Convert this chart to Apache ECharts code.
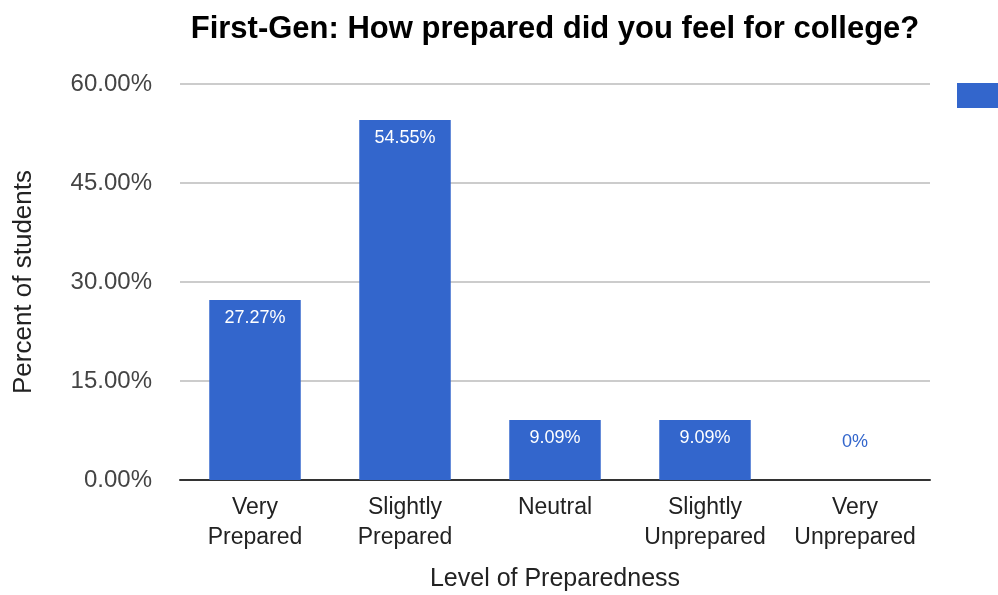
<!DOCTYPE html>
<html>
<head>
<meta charset="utf-8">
<script src="https://cdn.jsdelivr.net/npm/echarts@6/dist/echarts.min.js"></script>
<style>
  html, body { margin: 0; padding: 0; background: #fff; }
  #chart { width: 998px; height: 595px; }
</style>
</head>
<body>
<div id="chart"></div>
<script>
// Survey answers for first-generation students
const categories = ['Very\nPrepared', 'Slightly\nPrepared', 'Neutral', 'Slightly\nUnprepared', 'Very\nUnprepared'];
const percents = [27.27, 54.55, 9.09, 9.09, 0];
const yTicks = { min: 0, max: 60, step: 15 };

const BLUE = '#3366cc';
const FONT = '"Liberation Sans", Arial, sans-serif';

const chart = echarts.init(document.getElementById('chart'), null, { renderer: 'canvas' });

// Zero-height bars get their label above the baseline in the bar colour
const barData = percents.map(v => v === 0
  ? { value: v, label: { position: 'top', distance: 29, color: BLUE } }
  : v);

chart.setOption({
  animation: false,
  backgroundColor: '#ffffff',
  textStyle: { fontFamily: FONT },
  title: {
    text: 'First-Gen: How prepared did you feel for college?',
    left: 550,
    top: 9,
    textAlign: 'center',
    textStyle: { fontFamily: FONT, fontWeight: 'bold', fontSize: 31, color: '#000' }
  },
  legend: {
    left: 952,
    top: 78,
    itemWidth: 41,
    itemHeight: 25,
    icon: 'rect',
    formatter: () => '',
    data: ['Percent of students']
  },
  grid: { left: 180, right: 68, top: 84, bottom: 115, outerBoundsMode: 'none', containLabel: false },
  xAxis: {
    type: 'category',
    data: categories,
    name: 'Level of Preparedness',
    nameLocation: 'middle',
    nameGap: 87,
    nameTextStyle: { fontFamily: FONT, fontSize: 25, color: '#222' },
    axisLine: { lineStyle: { color: '#333', width: 2 } },
    axisTick: { show: false },
    axisLabel: { fontFamily: FONT, fontSize: 23, color: '#222', lineHeight: 30, margin: 13, interval: 0 }
  },
  yAxis: {
    type: 'value',
    min: yTicks.min,
    max: yTicks.max,
    interval: yTicks.step,
    name: 'Percent of students',
    nameLocation: 'middle',
    nameGap: 143,
    nameTextStyle: { fontFamily: FONT, fontSize: 26, color: '#222' },
    axisLine: { show: false },
    axisTick: { show: false },
    splitLine: { lineStyle: { color: '#cccccc', width: 2 } },
    axisLabel: {
      fontFamily: FONT, fontSize: 24, color: '#444', margin: 28,
      formatter: v => v.toFixed(2) + '%'
    }
  },
  series: [{
    name: 'Percent of students',
    type: 'bar',
    data: barData,
    barWidth: '61%',
    itemStyle: { color: BLUE },
    label: {
      show: true,
      position: 'insideTop',
      distance: 9,
      fontFamily: FONT,
      fontSize: 18,
      color: '#ffffff',
      formatter: p => p.value + '%'
    }
  }]
});
</script>
</body>
</html>
